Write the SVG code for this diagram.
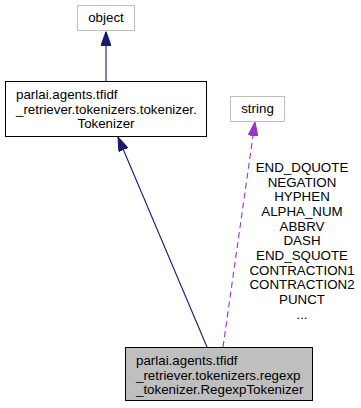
<svg xmlns="http://www.w3.org/2000/svg" width="361" height="408" viewBox="0 0 361 408">
  <style>
    text { font-family: "Liberation Sans", Arial, Helvetica, sans-serif; font-size: 13.33px; fill: #000; }
    .ext rect { fill: #fff; stroke: #bfbfbf; stroke-width: 1; }
    .cls rect { fill: #fff; stroke: #000; stroke-width: 1; }
    .cur rect { fill: #bfbfbf; stroke: #000; stroke-width: 1; }
    .mid { text-anchor: middle; }
    .inherit { fill: none; stroke: #191970; stroke-width: 1.1; }
    .usage { fill: none; stroke: #9a32cd; stroke-width: 1.1; stroke-dasharray: 6,4; }
  </style>
  <defs>
    <marker id="arrBlue" viewBox="0 0 14 10" refX="14" refY="5" markerWidth="14" markerHeight="10" markerUnits="userSpaceOnUse" orient="auto">
      <path d="M0,0 L14,5 L0,10 Z" fill="#191970" stroke="#191970" stroke-width="1"/>
    </marker>
    <marker id="arrPurple" viewBox="0 0 14 10" refX="14" refY="5" markerWidth="14" markerHeight="10" markerUnits="userSpaceOnUse" orient="auto">
      <path d="M0,0 L14,5 L0,10 Z" fill="#9a32cd" stroke="#9a32cd" stroke-width="1" stroke-dasharray="none"/>
    </marker>
  </defs>

  <g id="edges">
    <path class="inherit" d="M106,81 L106,31.5" marker-end="url(#arrBlue)"/>
    <path class="inherit" d="M207,347 L118,137" marker-end="url(#arrBlue)"/>
    <path class="usage" d="M223,347 L255,122" marker-end="url(#arrPurple)"/>
    <g id="edge-labels">
      <text class="mid" x="302" y="172">END_DQUOTE</text>
      <text class="mid" x="302" y="186.7">NEGATION</text>
      <text class="mid" x="302" y="201.3">HYPHEN</text>
      <text class="mid" x="302" y="216">ALPHA_NUM</text>
      <text class="mid" x="302" y="230.7">ABBRV</text>
      <text class="mid" x="302" y="245.3">DASH</text>
      <text class="mid" x="302" y="260">END_SQUOTE</text>
      <text class="mid" x="302" y="274.7">CONTRACTION1</text>
      <text class="mid" x="302" y="289.3">CONTRACTION2</text>
      <text class="mid" x="302" y="304">PUNCT</text>
      <text class="mid" x="302" y="318.7">...</text>
    </g>
  </g>

  <g id="node-object" class="ext">
    <rect x="77.5" y="5.5" width="57" height="25"/>
    <text class="mid" x="106" y="22">object</text>
  </g>

  <g id="node-tokenizer" class="cls">
    <rect x="5.5" y="81.5" width="201" height="55"/>
    <text x="16" y="99">parlai.agents.tfidf</text>
    <text x="16" y="113.7">_retriever.tokenizers.tokenizer.</text>
    <text class="mid" x="106" y="128.3">Tokenizer</text>
  </g>

  <g id="node-string" class="ext">
    <rect x="230.5" y="96.5" width="54" height="25"/>
    <text class="mid" x="257.5" y="113">string</text>
  </g>

  <g id="node-regexp" class="cur">
    <rect x="125.5" y="347.5" width="187" height="53"/>
    <text x="136" y="365">parlai.agents.tfidf</text>
    <text x="136" y="379.7">_retriever.tokenizers.regexp</text>
    <text x="136" y="394.3">_tokenizer.RegexpTokenizer</text>
  </g>
</svg>
